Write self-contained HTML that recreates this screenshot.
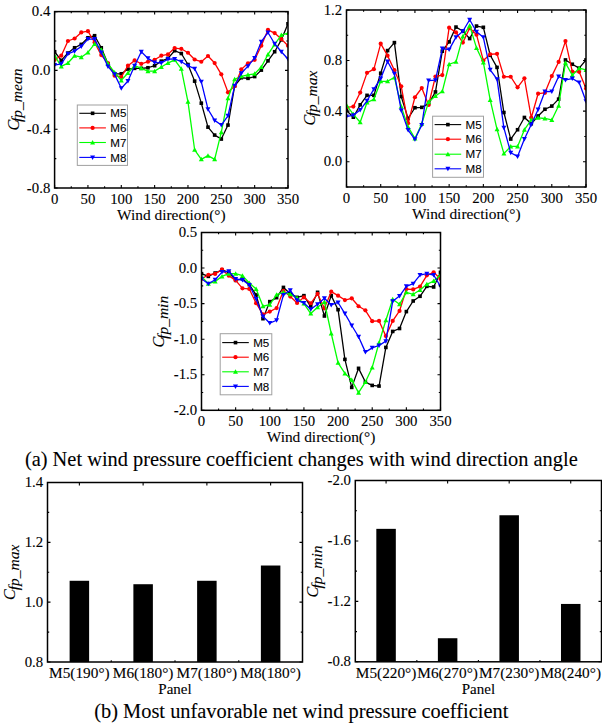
<!DOCTYPE html>
<html><head><meta charset="utf-8"><title>Figure</title>
<style>html,body{margin:0;padding:0;background:#fff;overflow:hidden}svg{display:block}</style></head>
<body><svg width="602" height="723" viewBox="0 0 602 723"><style>text{stroke:#000;stroke-width:0.1px}</style>
<rect width="602" height="723" fill="#fff"/>
<clipPath id="clip1"><rect x="54.6" y="11.6" width="233.4" height="176.4"/></clipPath>
<g clip-path="url(#clip1)">
<polyline points="54.6,51.73 61.27,60.4 67.94,53.05 74.61,47.76 81.27,44.38 87.94,37.77 94.61,35.71 101.28,47.76 107.95,63.79 114.62,73.78 121.29,73.78 127.95,69.08 134.62,68.34 141.29,68.34 147.96,67.75 154.63,65.7 161.3,61.14 167.97,58.35 174.63,50.7 181.3,53.49 187.97,64.52 194.64,81.13 201.31,103.18 207.98,127.14 214.65,135.08 221.31,139.05 227.98,125.08 234.65,85.83 241.32,77.75 247.99,78.34 254.66,76.57 261.33,70.11 267.99,60.84 274.66,51.73 281.33,39.82 288,23.8" fill="none" stroke="#000000" stroke-width="1.3" stroke-linejoin="round"/>
<rect x="52.8" y="49.93" width="3.6" height="3.6" fill="#000000"/>
<rect x="59.47" y="58.6" width="3.6" height="3.6" fill="#000000"/>
<rect x="66.14" y="51.25" width="3.6" height="3.6" fill="#000000"/>
<rect x="72.81" y="45.96" width="3.6" height="3.6" fill="#000000"/>
<rect x="79.47" y="42.58" width="3.6" height="3.6" fill="#000000"/>
<rect x="86.14" y="35.97" width="3.6" height="3.6" fill="#000000"/>
<rect x="92.81" y="33.91" width="3.6" height="3.6" fill="#000000"/>
<rect x="99.48" y="45.96" width="3.6" height="3.6" fill="#000000"/>
<rect x="106.15" y="61.99" width="3.6" height="3.6" fill="#000000"/>
<rect x="112.82" y="71.98" width="3.6" height="3.6" fill="#000000"/>
<rect x="119.49" y="71.98" width="3.6" height="3.6" fill="#000000"/>
<rect x="126.15" y="67.28" width="3.6" height="3.6" fill="#000000"/>
<rect x="132.82" y="66.54" width="3.6" height="3.6" fill="#000000"/>
<rect x="139.49" y="66.54" width="3.6" height="3.6" fill="#000000"/>
<rect x="146.16" y="65.95" width="3.6" height="3.6" fill="#000000"/>
<rect x="152.83" y="63.9" width="3.6" height="3.6" fill="#000000"/>
<rect x="159.5" y="59.34" width="3.6" height="3.6" fill="#000000"/>
<rect x="166.17" y="56.55" width="3.6" height="3.6" fill="#000000"/>
<rect x="172.83" y="48.9" width="3.6" height="3.6" fill="#000000"/>
<rect x="179.5" y="51.7" width="3.6" height="3.6" fill="#000000"/>
<rect x="186.17" y="62.72" width="3.6" height="3.6" fill="#000000"/>
<rect x="192.84" y="79.33" width="3.6" height="3.6" fill="#000000"/>
<rect x="199.51" y="101.38" width="3.6" height="3.6" fill="#000000"/>
<rect x="206.18" y="125.34" width="3.6" height="3.6" fill="#000000"/>
<rect x="212.85" y="133.28" width="3.6" height="3.6" fill="#000000"/>
<rect x="219.51" y="137.25" width="3.6" height="3.6" fill="#000000"/>
<rect x="226.18" y="123.28" width="3.6" height="3.6" fill="#000000"/>
<rect x="232.85" y="84.03" width="3.6" height="3.6" fill="#000000"/>
<rect x="239.52" y="75.95" width="3.6" height="3.6" fill="#000000"/>
<rect x="246.19" y="76.54" width="3.6" height="3.6" fill="#000000"/>
<rect x="252.86" y="74.77" width="3.6" height="3.6" fill="#000000"/>
<rect x="259.53" y="68.31" width="3.6" height="3.6" fill="#000000"/>
<rect x="266.19" y="59.04" width="3.6" height="3.6" fill="#000000"/>
<rect x="272.86" y="49.93" width="3.6" height="3.6" fill="#000000"/>
<rect x="279.53" y="38.02" width="3.6" height="3.6" fill="#000000"/>
<rect x="286.2" y="22" width="3.6" height="3.6" fill="#000000"/>
<polyline points="54.6,59.82 61.27,55.7 67.94,41 74.61,38.5 81.27,32.47 87.94,31.15 94.61,42.47 101.28,55.11 107.95,63.05 114.62,75.69 121.29,77.01 127.95,65.7 134.62,60.4 141.29,63.79 147.96,61.73 154.63,59.82 161.3,55.7 167.97,54.38 174.63,48.06 181.3,48.79 187.97,52.76 194.64,59.52 201.31,61.73 207.98,55.99 214.65,63.05 221.31,74.37 227.98,92.3 234.65,86.13 241.32,69.37 247.99,63.34 254.66,59.82 261.33,45.7 267.99,29.83 274.66,33.06 281.33,39.09 288,45.7" fill="none" stroke="#ff0000" stroke-width="1.3" stroke-linejoin="round"/>
<circle cx="54.6" cy="59.82" r="2.1" fill="#ff0000"/>
<circle cx="61.27" cy="55.7" r="2.1" fill="#ff0000"/>
<circle cx="67.94" cy="41" r="2.1" fill="#ff0000"/>
<circle cx="74.61" cy="38.5" r="2.1" fill="#ff0000"/>
<circle cx="81.27" cy="32.47" r="2.1" fill="#ff0000"/>
<circle cx="87.94" cy="31.15" r="2.1" fill="#ff0000"/>
<circle cx="94.61" cy="42.47" r="2.1" fill="#ff0000"/>
<circle cx="101.28" cy="55.11" r="2.1" fill="#ff0000"/>
<circle cx="107.95" cy="63.05" r="2.1" fill="#ff0000"/>
<circle cx="114.62" cy="75.69" r="2.1" fill="#ff0000"/>
<circle cx="121.29" cy="77.01" r="2.1" fill="#ff0000"/>
<circle cx="127.95" cy="65.7" r="2.1" fill="#ff0000"/>
<circle cx="134.62" cy="60.4" r="2.1" fill="#ff0000"/>
<circle cx="141.29" cy="63.79" r="2.1" fill="#ff0000"/>
<circle cx="147.96" cy="61.73" r="2.1" fill="#ff0000"/>
<circle cx="154.63" cy="59.82" r="2.1" fill="#ff0000"/>
<circle cx="161.3" cy="55.7" r="2.1" fill="#ff0000"/>
<circle cx="167.97" cy="54.38" r="2.1" fill="#ff0000"/>
<circle cx="174.63" cy="48.06" r="2.1" fill="#ff0000"/>
<circle cx="181.3" cy="48.79" r="2.1" fill="#ff0000"/>
<circle cx="187.97" cy="52.76" r="2.1" fill="#ff0000"/>
<circle cx="194.64" cy="59.52" r="2.1" fill="#ff0000"/>
<circle cx="201.31" cy="61.73" r="2.1" fill="#ff0000"/>
<circle cx="207.98" cy="55.99" r="2.1" fill="#ff0000"/>
<circle cx="214.65" cy="63.05" r="2.1" fill="#ff0000"/>
<circle cx="221.31" cy="74.37" r="2.1" fill="#ff0000"/>
<circle cx="227.98" cy="92.3" r="2.1" fill="#ff0000"/>
<circle cx="234.65" cy="86.13" r="2.1" fill="#ff0000"/>
<circle cx="241.32" cy="69.37" r="2.1" fill="#ff0000"/>
<circle cx="247.99" cy="63.34" r="2.1" fill="#ff0000"/>
<circle cx="254.66" cy="59.82" r="2.1" fill="#ff0000"/>
<circle cx="261.33" cy="45.7" r="2.1" fill="#ff0000"/>
<circle cx="267.99" cy="29.83" r="2.1" fill="#ff0000"/>
<circle cx="274.66" cy="33.06" r="2.1" fill="#ff0000"/>
<circle cx="281.33" cy="39.09" r="2.1" fill="#ff0000"/>
<circle cx="288" cy="45.7" r="2.1" fill="#ff0000"/>
<polyline points="54.6,55.7 61.27,66.43 67.94,63.05 74.61,55.7 81.27,57.17 87.94,52.47 94.61,43.94 101.28,49.82 107.95,63.79 114.62,72.46 121.29,80.4 127.95,73.05 134.62,65.7 141.29,68.34 147.96,71.13 154.63,71.13 161.3,67.02 167.97,63.05 174.63,59.82 181.3,68.78 187.97,101.86 194.64,149.78 201.31,159.33 207.98,155.66 214.65,159.33 221.31,132.14 227.98,98.33 234.65,79.22 241.32,76.28 247.99,74.81 254.66,73.78 261.33,67.02 267.99,54.38 274.66,44.38 281.33,35.12 288,33.06" fill="none" stroke="#00ff00" stroke-width="1.3" stroke-linejoin="round"/>
<path d="M54.6 53.2L57.1 57.7L52.1 57.7Z" fill="#00ff00"/>
<path d="M61.27 63.93L63.77 68.43L58.77 68.43Z" fill="#00ff00"/>
<path d="M67.94 60.55L70.44 65.05L65.44 65.05Z" fill="#00ff00"/>
<path d="M74.61 53.2L77.11 57.7L72.11 57.7Z" fill="#00ff00"/>
<path d="M81.27 54.67L83.77 59.17L78.77 59.17Z" fill="#00ff00"/>
<path d="M87.94 49.97L90.44 54.47L85.44 54.47Z" fill="#00ff00"/>
<path d="M94.61 41.44L97.11 45.94L92.11 45.94Z" fill="#00ff00"/>
<path d="M101.28 47.32L103.78 51.82L98.78 51.82Z" fill="#00ff00"/>
<path d="M107.95 61.29L110.45 65.78L105.45 65.78Z" fill="#00ff00"/>
<path d="M114.62 69.96L117.12 74.46L112.12 74.46Z" fill="#00ff00"/>
<path d="M121.29 77.9L123.79 82.4L118.79 82.4Z" fill="#00ff00"/>
<path d="M127.95 70.55L130.45 75.05L125.45 75.05Z" fill="#00ff00"/>
<path d="M134.62 63.2L137.12 67.7L132.12 67.7Z" fill="#00ff00"/>
<path d="M141.29 65.84L143.79 70.34L138.79 70.34Z" fill="#00ff00"/>
<path d="M147.96 68.63L150.46 73.13L145.46 73.13Z" fill="#00ff00"/>
<path d="M154.63 68.63L157.13 73.13L152.13 73.13Z" fill="#00ff00"/>
<path d="M161.3 64.52L163.8 69.02L158.8 69.02Z" fill="#00ff00"/>
<path d="M167.97 60.55L170.47 65.05L165.47 65.05Z" fill="#00ff00"/>
<path d="M174.63 57.32L177.13 61.82L172.13 61.82Z" fill="#00ff00"/>
<path d="M181.3 66.28L183.8 70.78L178.8 70.78Z" fill="#00ff00"/>
<path d="M187.97 99.36L190.47 103.86L185.47 103.86Z" fill="#00ff00"/>
<path d="M194.64 147.28L197.14 151.78L192.14 151.78Z" fill="#00ff00"/>
<path d="M201.31 156.83L203.81 161.33L198.81 161.33Z" fill="#00ff00"/>
<path d="M207.98 153.16L210.48 157.66L205.48 157.66Z" fill="#00ff00"/>
<path d="M214.65 156.83L217.15 161.33L212.15 161.33Z" fill="#00ff00"/>
<path d="M221.31 129.64L223.81 134.14L218.81 134.14Z" fill="#00ff00"/>
<path d="M227.98 95.83L230.48 100.33L225.48 100.33Z" fill="#00ff00"/>
<path d="M234.65 76.72L237.15 81.22L232.15 81.22Z" fill="#00ff00"/>
<path d="M241.32 73.78L243.82 78.28L238.82 78.28Z" fill="#00ff00"/>
<path d="M247.99 72.31L250.49 76.81L245.49 76.81Z" fill="#00ff00"/>
<path d="M254.66 71.28L257.16 75.78L252.16 75.78Z" fill="#00ff00"/>
<path d="M261.33 64.52L263.83 69.02L258.83 69.02Z" fill="#00ff00"/>
<path d="M267.99 51.88L270.49 56.38L265.49 56.38Z" fill="#00ff00"/>
<path d="M274.66 41.88L277.16 46.38L272.16 46.38Z" fill="#00ff00"/>
<path d="M281.33 32.62L283.83 37.12L278.83 37.12Z" fill="#00ff00"/>
<path d="M288 30.56L290.5 35.06L285.5 35.06Z" fill="#00ff00"/>
<polyline points="54.6,65.11 61.27,63.79 67.94,53.79 74.61,51.14 81.27,46.44 87.94,39.09 94.61,39.09 101.28,52.47 107.95,66.43 114.62,74.37 121.29,88.33 127.95,80.98 134.62,65.7 141.29,51.73 147.96,58.35 154.63,62.46 161.3,63.05 167.97,59.08 174.63,58.93 181.3,61.73 187.97,65.7 194.64,68.78 201.31,81.87 207.98,109.21 214.65,120.38 221.31,125.08 227.98,115.82 234.65,85.83 241.32,73.19 247.99,66.14 254.66,57.9 261.33,41.73 267.99,32.47 274.66,43.79 281.33,51.73 288,59.08" fill="none" stroke="#0000ff" stroke-width="1.3" stroke-linejoin="round"/>
<path d="M54.6 67.61L57.1 63.11L52.1 63.11Z" fill="#0000ff"/>
<path d="M61.27 66.28L63.77 61.79L58.77 61.79Z" fill="#0000ff"/>
<path d="M67.94 56.29L70.44 51.79L65.44 51.79Z" fill="#0000ff"/>
<path d="M74.61 53.64L77.11 49.14L72.11 49.14Z" fill="#0000ff"/>
<path d="M81.27 48.94L83.77 44.44L78.77 44.44Z" fill="#0000ff"/>
<path d="M87.94 41.59L90.44 37.09L85.44 37.09Z" fill="#0000ff"/>
<path d="M94.61 41.59L97.11 37.09L92.11 37.09Z" fill="#0000ff"/>
<path d="M101.28 54.97L103.78 50.47L98.78 50.47Z" fill="#0000ff"/>
<path d="M107.95 68.93L110.45 64.43L105.45 64.43Z" fill="#0000ff"/>
<path d="M114.62 76.87L117.12 72.37L112.12 72.37Z" fill="#0000ff"/>
<path d="M121.29 90.83L123.79 86.33L118.79 86.33Z" fill="#0000ff"/>
<path d="M127.95 83.48L130.45 78.98L125.45 78.98Z" fill="#0000ff"/>
<path d="M134.62 68.2L137.12 63.7L132.12 63.7Z" fill="#0000ff"/>
<path d="M141.29 54.23L143.79 49.73L138.79 49.73Z" fill="#0000ff"/>
<path d="M147.96 60.85L150.46 56.35L145.46 56.35Z" fill="#0000ff"/>
<path d="M154.63 64.96L157.13 60.46L152.13 60.46Z" fill="#0000ff"/>
<path d="M161.3 65.55L163.8 61.05L158.8 61.05Z" fill="#0000ff"/>
<path d="M167.97 61.58L170.47 57.08L165.47 57.08Z" fill="#0000ff"/>
<path d="M174.63 61.43L177.13 56.93L172.13 56.93Z" fill="#0000ff"/>
<path d="M181.3 64.23L183.8 59.73L178.8 59.73Z" fill="#0000ff"/>
<path d="M187.97 68.2L190.47 63.7L185.47 63.7Z" fill="#0000ff"/>
<path d="M194.64 71.28L197.14 66.78L192.14 66.78Z" fill="#0000ff"/>
<path d="M201.31 84.37L203.81 79.87L198.81 79.87Z" fill="#0000ff"/>
<path d="M207.98 111.71L210.48 107.21L205.48 107.21Z" fill="#0000ff"/>
<path d="M214.65 122.88L217.15 118.38L212.15 118.38Z" fill="#0000ff"/>
<path d="M221.31 127.58L223.81 123.08L218.81 123.08Z" fill="#0000ff"/>
<path d="M227.98 118.32L230.48 113.82L225.48 113.82Z" fill="#0000ff"/>
<path d="M234.65 88.33L237.15 83.83L232.15 83.83Z" fill="#0000ff"/>
<path d="M241.32 75.69L243.82 71.19L238.82 71.19Z" fill="#0000ff"/>
<path d="M247.99 68.64L250.49 64.14L245.49 64.14Z" fill="#0000ff"/>
<path d="M254.66 60.4L257.16 55.9L252.16 55.9Z" fill="#0000ff"/>
<path d="M261.33 44.23L263.83 39.73L258.83 39.73Z" fill="#0000ff"/>
<path d="M267.99 34.97L270.49 30.47L265.49 30.47Z" fill="#0000ff"/>
<path d="M274.66 46.29L277.16 41.79L272.16 41.79Z" fill="#0000ff"/>
<path d="M281.33 54.23L283.83 49.73L278.83 49.73Z" fill="#0000ff"/>
<path d="M288 61.58L290.5 57.08L285.5 57.08Z" fill="#0000ff"/>
</g>
<rect x="54.6" y="11.6" width="233.4" height="176.4" fill="none" stroke="#000" stroke-width="1.5"/>
<path d="M54.6 188V185M54.6 11.6V14.6" stroke="#000" stroke-width="1.1"/>
<text x="54.6" y="203.7" font-family="Liberation Serif" font-size="14.8" text-anchor="middle">0</text>
<path d="M71.27 188V186.3M71.27 11.6V13.3" stroke="#000" stroke-width="1.1"/>
<path d="M87.94 188V185M87.94 11.6V14.6" stroke="#000" stroke-width="1.1"/>
<text x="87.94" y="203.7" font-family="Liberation Serif" font-size="14.8" text-anchor="middle">50</text>
<path d="M104.61 188V186.3M104.61 11.6V13.3" stroke="#000" stroke-width="1.1"/>
<path d="M121.29 188V185M121.29 11.6V14.6" stroke="#000" stroke-width="1.1"/>
<text x="121.29" y="203.7" font-family="Liberation Serif" font-size="14.8" text-anchor="middle">100</text>
<path d="M137.96 188V186.3M137.96 11.6V13.3" stroke="#000" stroke-width="1.1"/>
<path d="M154.63 188V185M154.63 11.6V14.6" stroke="#000" stroke-width="1.1"/>
<text x="154.63" y="203.7" font-family="Liberation Serif" font-size="14.8" text-anchor="middle">150</text>
<path d="M171.3 188V186.3M171.3 11.6V13.3" stroke="#000" stroke-width="1.1"/>
<path d="M187.97 188V185M187.97 11.6V14.6" stroke="#000" stroke-width="1.1"/>
<text x="187.97" y="203.7" font-family="Liberation Serif" font-size="14.8" text-anchor="middle">200</text>
<path d="M204.64 188V186.3M204.64 11.6V13.3" stroke="#000" stroke-width="1.1"/>
<path d="M221.31 188V185M221.31 11.6V14.6" stroke="#000" stroke-width="1.1"/>
<text x="221.31" y="203.7" font-family="Liberation Serif" font-size="14.8" text-anchor="middle">250</text>
<path d="M237.99 188V186.3M237.99 11.6V13.3" stroke="#000" stroke-width="1.1"/>
<path d="M254.66 188V185M254.66 11.6V14.6" stroke="#000" stroke-width="1.1"/>
<text x="254.66" y="203.7" font-family="Liberation Serif" font-size="14.8" text-anchor="middle">300</text>
<path d="M271.33 188V186.3M271.33 11.6V13.3" stroke="#000" stroke-width="1.1"/>
<path d="M288 188V185M288 11.6V14.6" stroke="#000" stroke-width="1.1"/>
<text x="288" y="203.7" font-family="Liberation Serif" font-size="14.8" text-anchor="middle">350</text>
<path d="M54.6 11.6H57.6M288 11.6H285" stroke="#000" stroke-width="1.1"/>
<path d="M54.6 41H56.3M288 41H286.3" stroke="#000" stroke-width="1.1"/>
<path d="M54.6 70.4H57.6M288 70.4H285" stroke="#000" stroke-width="1.1"/>
<path d="M54.6 99.8H56.3M288 99.8H286.3" stroke="#000" stroke-width="1.1"/>
<path d="M54.6 129.2H57.6M288 129.2H285" stroke="#000" stroke-width="1.1"/>
<path d="M54.6 158.6H56.3M288 158.6H286.3" stroke="#000" stroke-width="1.1"/>
<path d="M54.6 188H57.6M288 188H285" stroke="#000" stroke-width="1.1"/>
<text x="50.3" y="16.1" font-family="Liberation Serif" font-size="14.8" text-anchor="end">0.4</text>
<text x="50.3" y="74.9" font-family="Liberation Serif" font-size="14.8" text-anchor="end">0.0</text>
<text x="50.3" y="133.7" font-family="Liberation Serif" font-size="14.8" text-anchor="end">-0.4</text>
<text x="50.3" y="192.5" font-family="Liberation Serif" font-size="14.8" text-anchor="end">-0.8</text>
<text x="171.3" y="219.6" font-family="Liberation Serif" font-size="15.4" text-anchor="middle">Wind direction(°)</text>
<text transform="translate(18.7,130.4) rotate(-90)" font-family="Liberation Serif" font-size="16" font-style="italic">C</text>
<text transform="translate(22.4,122) rotate(-90)" font-family="Liberation Serif" font-size="15.5" font-style="italic">fp_mean</text>
<rect x="77.3" y="105" width="50.2" height="60.4" fill="#fff" stroke="#a0a0a0" stroke-width="1"/>
<path d="M79.3 113.3H105.9" stroke="#000000" stroke-width="1.1"/>
<rect x="90.8" y="111.5" width="3.6" height="3.6" fill="#000000"/>
<text x="110.3" y="117.4" font-family="Liberation Sans" font-size="11.6" fill="#000">M5</text>
<path d="M79.3 127.9H105.9" stroke="#ff0000" stroke-width="1.1"/>
<circle cx="92.6" cy="127.9" r="2.1" fill="#ff0000"/>
<text x="110.3" y="132" font-family="Liberation Sans" font-size="11.6" fill="#000">M6</text>
<path d="M79.3 142.5H105.9" stroke="#00ff00" stroke-width="1.1"/>
<path d="M92.6 140L95.1 144.5L90.1 144.5Z" fill="#00ff00"/>
<text x="110.3" y="146.6" font-family="Liberation Sans" font-size="11.6" fill="#000">M7</text>
<path d="M79.3 157.4H105.9" stroke="#0000ff" stroke-width="1.1"/>
<path d="M92.6 159.9L95.1 155.4L90.1 155.4Z" fill="#0000ff"/>
<text x="110.3" y="161.5" font-family="Liberation Sans" font-size="11.6" fill="#000">M8</text>
<clipPath id="clip2"><rect x="346.5" y="10" width="239.5" height="177"/></clipPath>
<g clip-path="url(#clip2)">
<polyline points="346.5,110.51 353.34,117.21 360.19,104.82 367.03,95.34 373.87,95.34 380.71,73.21 387.56,50.58 394.4,42.62 401.24,96.6 408.09,118.48 414.93,107.73 421.77,107.35 428.61,103.56 435.46,91.93 442.3,51.22 449.14,41.86 455.99,27.07 462.83,30.99 469.67,38.57 476.51,26.06 483.36,27.32 490.2,55.26 497.04,67.4 503.89,112.53 510.73,139.08 517.57,129.73 524.41,117.46 531.26,123.79 538.1,115.95 544.94,109.25 551.79,106.09 558.63,99.13 565.47,59.94 572.31,64.24 579.16,68.16 586,59.94" fill="none" stroke="#000000" stroke-width="1.3" stroke-linejoin="round"/>
<rect x="344.7" y="108.71" width="3.6" height="3.6" fill="#000000"/>
<rect x="351.54" y="115.41" width="3.6" height="3.6" fill="#000000"/>
<rect x="358.39" y="103.02" width="3.6" height="3.6" fill="#000000"/>
<rect x="365.23" y="93.54" width="3.6" height="3.6" fill="#000000"/>
<rect x="372.07" y="93.54" width="3.6" height="3.6" fill="#000000"/>
<rect x="378.91" y="71.41" width="3.6" height="3.6" fill="#000000"/>
<rect x="385.76" y="48.78" width="3.6" height="3.6" fill="#000000"/>
<rect x="392.6" y="40.82" width="3.6" height="3.6" fill="#000000"/>
<rect x="399.44" y="94.8" width="3.6" height="3.6" fill="#000000"/>
<rect x="406.29" y="116.68" width="3.6" height="3.6" fill="#000000"/>
<rect x="413.13" y="105.93" width="3.6" height="3.6" fill="#000000"/>
<rect x="419.97" y="105.55" width="3.6" height="3.6" fill="#000000"/>
<rect x="426.81" y="101.76" width="3.6" height="3.6" fill="#000000"/>
<rect x="433.66" y="90.13" width="3.6" height="3.6" fill="#000000"/>
<rect x="440.5" y="49.42" width="3.6" height="3.6" fill="#000000"/>
<rect x="447.34" y="40.06" width="3.6" height="3.6" fill="#000000"/>
<rect x="454.19" y="25.27" width="3.6" height="3.6" fill="#000000"/>
<rect x="461.03" y="29.19" width="3.6" height="3.6" fill="#000000"/>
<rect x="467.87" y="36.77" width="3.6" height="3.6" fill="#000000"/>
<rect x="474.71" y="24.26" width="3.6" height="3.6" fill="#000000"/>
<rect x="481.56" y="25.52" width="3.6" height="3.6" fill="#000000"/>
<rect x="488.4" y="53.46" width="3.6" height="3.6" fill="#000000"/>
<rect x="495.24" y="65.6" width="3.6" height="3.6" fill="#000000"/>
<rect x="502.09" y="110.73" width="3.6" height="3.6" fill="#000000"/>
<rect x="508.93" y="137.28" width="3.6" height="3.6" fill="#000000"/>
<rect x="515.77" y="127.93" width="3.6" height="3.6" fill="#000000"/>
<rect x="522.61" y="115.66" width="3.6" height="3.6" fill="#000000"/>
<rect x="529.46" y="121.99" width="3.6" height="3.6" fill="#000000"/>
<rect x="536.3" y="114.15" width="3.6" height="3.6" fill="#000000"/>
<rect x="543.14" y="107.45" width="3.6" height="3.6" fill="#000000"/>
<rect x="549.99" y="104.29" width="3.6" height="3.6" fill="#000000"/>
<rect x="556.83" y="97.33" width="3.6" height="3.6" fill="#000000"/>
<rect x="563.67" y="58.14" width="3.6" height="3.6" fill="#000000"/>
<rect x="570.51" y="62.44" width="3.6" height="3.6" fill="#000000"/>
<rect x="577.36" y="66.36" width="3.6" height="3.6" fill="#000000"/>
<rect x="584.2" y="58.14" width="3.6" height="3.6" fill="#000000"/>
<polyline points="346.5,107.35 353.34,106.59 360.19,92.56 367.03,72.84 373.87,69.17 380.71,43.63 387.56,55.64 394.4,70.18 401.24,86.36 408.09,123.15 414.93,97.24 421.77,88.01 428.61,104.95 435.46,76.5 442.3,75.11 449.14,27.7 455.99,32.38 462.83,42.62 469.67,28.08 476.51,34.65 483.36,60.57 490.2,54.25 497.04,53.87 503.89,76.75 510.73,76.75 517.57,87.37 524.41,78.27 531.26,117.72 538.1,93.7 544.94,92.81 551.79,76.12 558.63,61.96 565.47,41.1 572.31,71.57 579.16,71.82 586,88.39" fill="none" stroke="#ff0000" stroke-width="1.3" stroke-linejoin="round"/>
<circle cx="346.5" cy="107.35" r="2.1" fill="#ff0000"/>
<circle cx="353.34" cy="106.59" r="2.1" fill="#ff0000"/>
<circle cx="360.19" cy="92.56" r="2.1" fill="#ff0000"/>
<circle cx="367.03" cy="72.84" r="2.1" fill="#ff0000"/>
<circle cx="373.87" cy="69.17" r="2.1" fill="#ff0000"/>
<circle cx="380.71" cy="43.63" r="2.1" fill="#ff0000"/>
<circle cx="387.56" cy="55.64" r="2.1" fill="#ff0000"/>
<circle cx="394.4" cy="70.18" r="2.1" fill="#ff0000"/>
<circle cx="401.24" cy="86.36" r="2.1" fill="#ff0000"/>
<circle cx="408.09" cy="123.15" r="2.1" fill="#ff0000"/>
<circle cx="414.93" cy="97.24" r="2.1" fill="#ff0000"/>
<circle cx="421.77" cy="88.01" r="2.1" fill="#ff0000"/>
<circle cx="428.61" cy="104.95" r="2.1" fill="#ff0000"/>
<circle cx="435.46" cy="76.5" r="2.1" fill="#ff0000"/>
<circle cx="442.3" cy="75.11" r="2.1" fill="#ff0000"/>
<circle cx="449.14" cy="27.7" r="2.1" fill="#ff0000"/>
<circle cx="455.99" cy="32.38" r="2.1" fill="#ff0000"/>
<circle cx="462.83" cy="42.62" r="2.1" fill="#ff0000"/>
<circle cx="469.67" cy="28.08" r="2.1" fill="#ff0000"/>
<circle cx="476.51" cy="34.65" r="2.1" fill="#ff0000"/>
<circle cx="483.36" cy="60.57" r="2.1" fill="#ff0000"/>
<circle cx="490.2" cy="54.25" r="2.1" fill="#ff0000"/>
<circle cx="497.04" cy="53.87" r="2.1" fill="#ff0000"/>
<circle cx="503.89" cy="76.75" r="2.1" fill="#ff0000"/>
<circle cx="510.73" cy="76.75" r="2.1" fill="#ff0000"/>
<circle cx="517.57" cy="87.37" r="2.1" fill="#ff0000"/>
<circle cx="524.41" cy="78.27" r="2.1" fill="#ff0000"/>
<circle cx="531.26" cy="117.72" r="2.1" fill="#ff0000"/>
<circle cx="538.1" cy="93.7" r="2.1" fill="#ff0000"/>
<circle cx="544.94" cy="92.81" r="2.1" fill="#ff0000"/>
<circle cx="551.79" cy="76.12" r="2.1" fill="#ff0000"/>
<circle cx="558.63" cy="61.96" r="2.1" fill="#ff0000"/>
<circle cx="565.47" cy="41.1" r="2.1" fill="#ff0000"/>
<circle cx="572.31" cy="71.57" r="2.1" fill="#ff0000"/>
<circle cx="579.16" cy="71.82" r="2.1" fill="#ff0000"/>
<circle cx="586" cy="88.39" r="2.1" fill="#ff0000"/>
<polyline points="346.5,105.2 353.34,114.3 360.19,122.27 367.03,102.55 373.87,99.26 380.71,81.31 387.56,81.31 394.4,77.39 401.24,106.59 408.09,126.95 414.93,138.45 421.77,123.79 428.61,101.91 435.46,95.97 442.3,91.29 449.14,64.24 455.99,61.84 462.83,36.55 469.67,25.68 476.51,47.93 483.36,62.47 490.2,99.89 497.04,129.35 503.89,153.62 510.73,146.42 517.57,146.42 524.41,129.73 531.26,119.87 538.1,117.84 544.94,118.48 551.79,119.99 558.63,105.71 565.47,62.85 572.31,75.24 579.16,68.16 586,69.93" fill="none" stroke="#00ff00" stroke-width="1.3" stroke-linejoin="round"/>
<path d="M346.5 102.7L349 107.2L344 107.2Z" fill="#00ff00"/>
<path d="M353.34 111.8L355.84 116.3L350.84 116.3Z" fill="#00ff00"/>
<path d="M360.19 119.77L362.69 124.27L357.69 124.27Z" fill="#00ff00"/>
<path d="M367.03 100.05L369.53 104.55L364.53 104.55Z" fill="#00ff00"/>
<path d="M373.87 96.76L376.37 101.26L371.37 101.26Z" fill="#00ff00"/>
<path d="M380.71 78.81L383.21 83.31L378.21 83.31Z" fill="#00ff00"/>
<path d="M387.56 78.81L390.06 83.31L385.06 83.31Z" fill="#00ff00"/>
<path d="M394.4 74.89L396.9 79.39L391.9 79.39Z" fill="#00ff00"/>
<path d="M401.24 104.09L403.74 108.59L398.74 108.59Z" fill="#00ff00"/>
<path d="M408.09 124.45L410.59 128.95L405.59 128.95Z" fill="#00ff00"/>
<path d="M414.93 135.95L417.43 140.45L412.43 140.45Z" fill="#00ff00"/>
<path d="M421.77 121.29L424.27 125.79L419.27 125.79Z" fill="#00ff00"/>
<path d="M428.61 99.41L431.11 103.91L426.11 103.91Z" fill="#00ff00"/>
<path d="M435.46 93.47L437.96 97.97L432.96 97.97Z" fill="#00ff00"/>
<path d="M442.3 88.79L444.8 93.29L439.8 93.29Z" fill="#00ff00"/>
<path d="M449.14 61.74L451.64 66.24L446.64 66.24Z" fill="#00ff00"/>
<path d="M455.99 59.34L458.49 63.84L453.49 63.84Z" fill="#00ff00"/>
<path d="M462.83 34.05L465.33 38.55L460.33 38.55Z" fill="#00ff00"/>
<path d="M469.67 23.18L472.17 27.68L467.17 27.68Z" fill="#00ff00"/>
<path d="M476.51 45.43L479.01 49.93L474.01 49.93Z" fill="#00ff00"/>
<path d="M483.36 59.97L485.86 64.47L480.86 64.47Z" fill="#00ff00"/>
<path d="M490.2 97.39L492.7 101.89L487.7 101.89Z" fill="#00ff00"/>
<path d="M497.04 126.85L499.54 131.35L494.54 131.35Z" fill="#00ff00"/>
<path d="M503.89 151.12L506.39 155.62L501.39 155.62Z" fill="#00ff00"/>
<path d="M510.73 143.92L513.23 148.42L508.23 148.42Z" fill="#00ff00"/>
<path d="M517.57 143.92L520.07 148.42L515.07 148.42Z" fill="#00ff00"/>
<path d="M524.41 127.23L526.91 131.73L521.91 131.73Z" fill="#00ff00"/>
<path d="M531.26 117.37L533.76 121.87L528.76 121.87Z" fill="#00ff00"/>
<path d="M538.1 115.34L540.6 119.84L535.6 119.84Z" fill="#00ff00"/>
<path d="M544.94 115.98L547.44 120.48L542.44 120.48Z" fill="#00ff00"/>
<path d="M551.79 117.49L554.29 121.99L549.29 121.99Z" fill="#00ff00"/>
<path d="M558.63 103.21L561.13 107.71L556.13 107.71Z" fill="#00ff00"/>
<path d="M565.47 60.35L567.97 64.85L562.97 64.85Z" fill="#00ff00"/>
<path d="M572.31 72.74L574.81 77.24L569.81 77.24Z" fill="#00ff00"/>
<path d="M579.16 65.66L581.66 70.16L576.66 70.16Z" fill="#00ff00"/>
<path d="M586 67.43L588.5 71.93L583.5 71.93Z" fill="#00ff00"/>
<polyline points="346.5,116.58 353.34,115.19 360.19,109.88 367.03,100.78 373.87,89.14 380.71,78.4 387.56,61.46 394.4,73.85 401.24,110.38 408.09,130.11 414.93,139.34 421.77,125.05 428.61,80.55 435.46,80.17 442.3,48.56 449.14,49.57 455.99,37.18 462.83,31.24 469.67,19.73 476.51,31.75 483.36,37.31 490.2,69.8 497.04,79.16 503.89,127.83 510.73,152.74 517.57,156.4 524.41,139.08 531.26,124.54 538.1,109.5 544.94,91.42 551.79,91.55 558.63,76.5 565.47,79.91 572.31,78.52 579.16,82.57 586,101.16" fill="none" stroke="#0000ff" stroke-width="1.3" stroke-linejoin="round"/>
<path d="M346.5 119.08L349 114.58L344 114.58Z" fill="#0000ff"/>
<path d="M353.34 117.69L355.84 113.19L350.84 113.19Z" fill="#0000ff"/>
<path d="M360.19 112.38L362.69 107.88L357.69 107.88Z" fill="#0000ff"/>
<path d="M367.03 103.28L369.53 98.78L364.53 98.78Z" fill="#0000ff"/>
<path d="M373.87 91.64L376.37 87.14L371.37 87.14Z" fill="#0000ff"/>
<path d="M380.71 80.9L383.21 76.4L378.21 76.4Z" fill="#0000ff"/>
<path d="M387.56 63.96L390.06 59.46L385.06 59.46Z" fill="#0000ff"/>
<path d="M394.4 76.35L396.9 71.85L391.9 71.85Z" fill="#0000ff"/>
<path d="M401.24 112.88L403.74 108.38L398.74 108.38Z" fill="#0000ff"/>
<path d="M408.09 132.61L410.59 128.11L405.59 128.11Z" fill="#0000ff"/>
<path d="M414.93 141.84L417.43 137.34L412.43 137.34Z" fill="#0000ff"/>
<path d="M421.77 127.55L424.27 123.05L419.27 123.05Z" fill="#0000ff"/>
<path d="M428.61 83.05L431.11 78.55L426.11 78.55Z" fill="#0000ff"/>
<path d="M435.46 82.67L437.96 78.17L432.96 78.17Z" fill="#0000ff"/>
<path d="M442.3 51.06L444.8 46.56L439.8 46.56Z" fill="#0000ff"/>
<path d="M449.14 52.07L451.64 47.57L446.64 47.57Z" fill="#0000ff"/>
<path d="M455.99 39.68L458.49 35.18L453.49 35.18Z" fill="#0000ff"/>
<path d="M462.83 33.74L465.33 29.24L460.33 29.24Z" fill="#0000ff"/>
<path d="M469.67 22.23L472.17 17.73L467.17 17.73Z" fill="#0000ff"/>
<path d="M476.51 34.25L479.01 29.75L474.01 29.75Z" fill="#0000ff"/>
<path d="M483.36 39.81L485.86 35.31L480.86 35.31Z" fill="#0000ff"/>
<path d="M490.2 72.3L492.7 67.8L487.7 67.8Z" fill="#0000ff"/>
<path d="M497.04 81.66L499.54 77.16L494.54 77.16Z" fill="#0000ff"/>
<path d="M503.89 130.33L506.39 125.83L501.39 125.83Z" fill="#0000ff"/>
<path d="M510.73 155.24L513.23 150.74L508.23 150.74Z" fill="#0000ff"/>
<path d="M517.57 158.9L520.07 154.4L515.07 154.4Z" fill="#0000ff"/>
<path d="M524.41 141.58L526.91 137.08L521.91 137.08Z" fill="#0000ff"/>
<path d="M531.26 127.04L533.76 122.54L528.76 122.54Z" fill="#0000ff"/>
<path d="M538.1 112L540.6 107.5L535.6 107.5Z" fill="#0000ff"/>
<path d="M544.94 93.92L547.44 89.42L542.44 89.42Z" fill="#0000ff"/>
<path d="M551.79 94.05L554.29 89.55L549.29 89.55Z" fill="#0000ff"/>
<path d="M558.63 79L561.13 74.5L556.13 74.5Z" fill="#0000ff"/>
<path d="M565.47 82.41L567.97 77.91L562.97 77.91Z" fill="#0000ff"/>
<path d="M572.31 81.02L574.81 76.52L569.81 76.52Z" fill="#0000ff"/>
<path d="M579.16 85.07L581.66 80.57L576.66 80.57Z" fill="#0000ff"/>
<path d="M586 103.66L588.5 99.16L583.5 99.16Z" fill="#0000ff"/>
</g>
<rect x="346.5" y="10" width="239.5" height="177" fill="none" stroke="#000" stroke-width="1.5"/>
<path d="M346.5 187V184M346.5 10V13" stroke="#000" stroke-width="1.1"/>
<text x="346.5" y="202.7" font-family="Liberation Serif" font-size="14.8" text-anchor="middle">0</text>
<path d="M363.61 187V185.3M363.61 10V11.7" stroke="#000" stroke-width="1.1"/>
<path d="M380.71 187V184M380.71 10V13" stroke="#000" stroke-width="1.1"/>
<text x="380.71" y="202.7" font-family="Liberation Serif" font-size="14.8" text-anchor="middle">50</text>
<path d="M397.82 187V185.3M397.82 10V11.7" stroke="#000" stroke-width="1.1"/>
<path d="M414.93 187V184M414.93 10V13" stroke="#000" stroke-width="1.1"/>
<text x="414.93" y="202.7" font-family="Liberation Serif" font-size="14.8" text-anchor="middle">100</text>
<path d="M432.04 187V185.3M432.04 10V11.7" stroke="#000" stroke-width="1.1"/>
<path d="M449.14 187V184M449.14 10V13" stroke="#000" stroke-width="1.1"/>
<text x="449.14" y="202.7" font-family="Liberation Serif" font-size="14.8" text-anchor="middle">150</text>
<path d="M466.25 187V185.3M466.25 10V11.7" stroke="#000" stroke-width="1.1"/>
<path d="M483.36 187V184M483.36 10V13" stroke="#000" stroke-width="1.1"/>
<text x="483.36" y="202.7" font-family="Liberation Serif" font-size="14.8" text-anchor="middle">200</text>
<path d="M500.46 187V185.3M500.46 10V11.7" stroke="#000" stroke-width="1.1"/>
<path d="M517.57 187V184M517.57 10V13" stroke="#000" stroke-width="1.1"/>
<text x="517.57" y="202.7" font-family="Liberation Serif" font-size="14.8" text-anchor="middle">250</text>
<path d="M534.68 187V185.3M534.68 10V11.7" stroke="#000" stroke-width="1.1"/>
<path d="M551.79 187V184M551.79 10V13" stroke="#000" stroke-width="1.1"/>
<text x="551.79" y="202.7" font-family="Liberation Serif" font-size="14.8" text-anchor="middle">300</text>
<path d="M568.89 187V185.3M568.89 10V11.7" stroke="#000" stroke-width="1.1"/>
<path d="M586 187V184M586 10V13" stroke="#000" stroke-width="1.1"/>
<text x="586" y="202.7" font-family="Liberation Serif" font-size="14.8" text-anchor="middle">350</text>
<path d="M346.5 10H349.5M586 10H583" stroke="#000" stroke-width="1.1"/>
<path d="M346.5 35.29H348.2M586 35.29H584.3" stroke="#000" stroke-width="1.1"/>
<path d="M346.5 60.57H349.5M586 60.57H583" stroke="#000" stroke-width="1.1"/>
<path d="M346.5 85.86H348.2M586 85.86H584.3" stroke="#000" stroke-width="1.1"/>
<path d="M346.5 111.14H349.5M586 111.14H583" stroke="#000" stroke-width="1.1"/>
<path d="M346.5 136.43H348.2M586 136.43H584.3" stroke="#000" stroke-width="1.1"/>
<path d="M346.5 161.71H349.5M586 161.71H583" stroke="#000" stroke-width="1.1"/>
<path d="M346.5 187H348.2M586 187H584.3" stroke="#000" stroke-width="1.1"/>
<text x="342.2" y="14.5" font-family="Liberation Serif" font-size="14.8" text-anchor="end">1.2</text>
<text x="342.2" y="65.07" font-family="Liberation Serif" font-size="14.8" text-anchor="end">0.8</text>
<text x="342.2" y="115.64" font-family="Liberation Serif" font-size="14.8" text-anchor="end">0.4</text>
<text x="342.2" y="166.21" font-family="Liberation Serif" font-size="14.8" text-anchor="end">0.0</text>
<text x="466.25" y="218.6" font-family="Liberation Serif" font-size="15.4" text-anchor="middle">Wind direction(°)</text>
<text transform="translate(314.6,125.4) rotate(-90)" font-family="Liberation Serif" font-size="16" font-style="italic">C</text>
<text transform="translate(317.1,116.3) rotate(-90)" font-family="Liberation Serif" font-size="15.5" font-style="italic">fp_max</text>
<rect x="432.6" y="116.2" width="50.9" height="61.1" fill="#fff" stroke="#a0a0a0" stroke-width="1"/>
<path d="M434.6 124.6H461.2" stroke="#000000" stroke-width="1.1"/>
<rect x="446.1" y="122.8" width="3.6" height="3.6" fill="#000000"/>
<text x="465.6" y="128.7" font-family="Liberation Sans" font-size="11.6" fill="#000">M5</text>
<path d="M434.6 139.2H461.2" stroke="#ff0000" stroke-width="1.1"/>
<circle cx="447.9" cy="139.2" r="2.1" fill="#ff0000"/>
<text x="465.6" y="143.3" font-family="Liberation Sans" font-size="11.6" fill="#000">M6</text>
<path d="M434.6 154.2H461.2" stroke="#00ff00" stroke-width="1.1"/>
<path d="M447.9 151.7L450.4 156.2L445.4 156.2Z" fill="#00ff00"/>
<text x="465.6" y="158.3" font-family="Liberation Sans" font-size="11.6" fill="#000">M7</text>
<path d="M434.6 168.8H461.2" stroke="#0000ff" stroke-width="1.1"/>
<path d="M447.9 171.3L450.4 166.8L445.4 166.8Z" fill="#0000ff"/>
<text x="465.6" y="172.9" font-family="Liberation Sans" font-size="11.6" fill="#000">M8</text>
<clipPath id="clip3"><rect x="201.5" y="232.5" width="239" height="177.8"/></clipPath>
<g clip-path="url(#clip3)">
<polyline points="201.5,273.68 208.33,276.38 215.16,273.04 221.99,269.98 228.81,272.33 235.64,280.36 242.47,278.73 249.3,284.63 256.13,294.94 262.96,318.7 269.79,301.63 276.61,297.65 283.44,287.4 290.27,293.66 297.1,297.36 303.93,295.65 310.76,306.96 317.59,292.31 324.41,315.99 331.24,295.65 338.07,309.67 344.9,359.38 351.73,387.4 358.56,368.34 365.39,382.07 372.21,385.41 379.04,386.05 385.87,347.43 392.7,331.43 399.53,328.51 406.36,311.59 413.19,300.99 420.01,296.29 426.84,286.34 433.67,286.98 440.5,272.33" fill="none" stroke="#000000" stroke-width="1.3" stroke-linejoin="round"/>
<rect x="199.7" y="271.88" width="3.6" height="3.6" fill="#000000"/>
<rect x="206.53" y="274.58" width="3.6" height="3.6" fill="#000000"/>
<rect x="213.36" y="271.24" width="3.6" height="3.6" fill="#000000"/>
<rect x="220.19" y="268.18" width="3.6" height="3.6" fill="#000000"/>
<rect x="227.01" y="270.53" width="3.6" height="3.6" fill="#000000"/>
<rect x="233.84" y="278.56" width="3.6" height="3.6" fill="#000000"/>
<rect x="240.67" y="276.93" width="3.6" height="3.6" fill="#000000"/>
<rect x="247.5" y="282.83" width="3.6" height="3.6" fill="#000000"/>
<rect x="254.33" y="293.14" width="3.6" height="3.6" fill="#000000"/>
<rect x="261.16" y="316.9" width="3.6" height="3.6" fill="#000000"/>
<rect x="267.99" y="299.83" width="3.6" height="3.6" fill="#000000"/>
<rect x="274.81" y="295.85" width="3.6" height="3.6" fill="#000000"/>
<rect x="281.64" y="285.6" width="3.6" height="3.6" fill="#000000"/>
<rect x="288.47" y="291.86" width="3.6" height="3.6" fill="#000000"/>
<rect x="295.3" y="295.56" width="3.6" height="3.6" fill="#000000"/>
<rect x="302.13" y="293.85" width="3.6" height="3.6" fill="#000000"/>
<rect x="308.96" y="305.16" width="3.6" height="3.6" fill="#000000"/>
<rect x="315.79" y="290.51" width="3.6" height="3.6" fill="#000000"/>
<rect x="322.61" y="314.19" width="3.6" height="3.6" fill="#000000"/>
<rect x="329.44" y="293.85" width="3.6" height="3.6" fill="#000000"/>
<rect x="336.27" y="307.87" width="3.6" height="3.6" fill="#000000"/>
<rect x="343.1" y="357.58" width="3.6" height="3.6" fill="#000000"/>
<rect x="349.93" y="385.6" width="3.6" height="3.6" fill="#000000"/>
<rect x="356.76" y="366.54" width="3.6" height="3.6" fill="#000000"/>
<rect x="363.59" y="380.27" width="3.6" height="3.6" fill="#000000"/>
<rect x="370.41" y="383.61" width="3.6" height="3.6" fill="#000000"/>
<rect x="377.24" y="384.25" width="3.6" height="3.6" fill="#000000"/>
<rect x="384.07" y="345.63" width="3.6" height="3.6" fill="#000000"/>
<rect x="390.9" y="329.63" width="3.6" height="3.6" fill="#000000"/>
<rect x="397.73" y="326.71" width="3.6" height="3.6" fill="#000000"/>
<rect x="404.56" y="309.79" width="3.6" height="3.6" fill="#000000"/>
<rect x="411.39" y="299.19" width="3.6" height="3.6" fill="#000000"/>
<rect x="418.21" y="294.49" width="3.6" height="3.6" fill="#000000"/>
<rect x="425.04" y="284.54" width="3.6" height="3.6" fill="#000000"/>
<rect x="431.87" y="285.18" width="3.6" height="3.6" fill="#000000"/>
<rect x="438.7" y="270.53" width="3.6" height="3.6" fill="#000000"/>
<polyline points="201.5,279.01 208.33,274.75 215.16,273.96 221.99,269.41 228.81,275.67 235.64,280.36 242.47,288.33 249.3,288.97 256.13,303.19 262.96,314.29 269.79,311.59 276.61,308.03 283.44,290.75 290.27,296.58 297.1,302.98 303.93,297.36 310.76,303.26 317.59,293.95 324.41,308.31 331.24,291.67 338.07,295.65 344.9,300.06 351.73,298.29 358.56,306.25 365.39,310.31 372.21,321.19 379.04,320.9 385.87,336.12 392.7,320.9 399.53,310.95 406.36,289.04 413.19,289.4 420.01,286.69 426.84,275.31 433.67,272.33 440.5,279.01" fill="none" stroke="#ff0000" stroke-width="1.3" stroke-linejoin="round"/>
<circle cx="201.5" cy="279.01" r="2.1" fill="#ff0000"/>
<circle cx="208.33" cy="274.75" r="2.1" fill="#ff0000"/>
<circle cx="215.16" cy="273.96" r="2.1" fill="#ff0000"/>
<circle cx="221.99" cy="269.41" r="2.1" fill="#ff0000"/>
<circle cx="228.81" cy="275.67" r="2.1" fill="#ff0000"/>
<circle cx="235.64" cy="280.36" r="2.1" fill="#ff0000"/>
<circle cx="242.47" cy="288.33" r="2.1" fill="#ff0000"/>
<circle cx="249.3" cy="288.97" r="2.1" fill="#ff0000"/>
<circle cx="256.13" cy="303.19" r="2.1" fill="#ff0000"/>
<circle cx="262.96" cy="314.29" r="2.1" fill="#ff0000"/>
<circle cx="269.79" cy="311.59" r="2.1" fill="#ff0000"/>
<circle cx="276.61" cy="308.03" r="2.1" fill="#ff0000"/>
<circle cx="283.44" cy="290.75" r="2.1" fill="#ff0000"/>
<circle cx="290.27" cy="296.58" r="2.1" fill="#ff0000"/>
<circle cx="297.1" cy="302.98" r="2.1" fill="#ff0000"/>
<circle cx="303.93" cy="297.36" r="2.1" fill="#ff0000"/>
<circle cx="310.76" cy="303.26" r="2.1" fill="#ff0000"/>
<circle cx="317.59" cy="293.95" r="2.1" fill="#ff0000"/>
<circle cx="324.41" cy="308.31" r="2.1" fill="#ff0000"/>
<circle cx="331.24" cy="291.67" r="2.1" fill="#ff0000"/>
<circle cx="338.07" cy="295.65" r="2.1" fill="#ff0000"/>
<circle cx="344.9" cy="300.06" r="2.1" fill="#ff0000"/>
<circle cx="351.73" cy="298.29" r="2.1" fill="#ff0000"/>
<circle cx="358.56" cy="306.25" r="2.1" fill="#ff0000"/>
<circle cx="365.39" cy="310.31" r="2.1" fill="#ff0000"/>
<circle cx="372.21" cy="321.19" r="2.1" fill="#ff0000"/>
<circle cx="379.04" cy="320.9" r="2.1" fill="#ff0000"/>
<circle cx="385.87" cy="336.12" r="2.1" fill="#ff0000"/>
<circle cx="392.7" cy="320.9" r="2.1" fill="#ff0000"/>
<circle cx="399.53" cy="310.95" r="2.1" fill="#ff0000"/>
<circle cx="406.36" cy="289.04" r="2.1" fill="#ff0000"/>
<circle cx="413.19" cy="289.4" r="2.1" fill="#ff0000"/>
<circle cx="420.01" cy="286.69" r="2.1" fill="#ff0000"/>
<circle cx="426.84" cy="275.31" r="2.1" fill="#ff0000"/>
<circle cx="433.67" cy="272.33" r="2.1" fill="#ff0000"/>
<circle cx="440.5" cy="279.01" r="2.1" fill="#ff0000"/>
<polyline points="201.5,276.38 208.33,283.71 215.16,281.57 221.99,276.38 228.81,273.68 235.64,273.68 242.47,275.67 249.3,283 256.13,288.97 262.96,306.25 269.79,304.69 276.61,294.73 283.44,292.31 290.27,294.3 297.1,297.93 303.93,303.62 310.76,313.58 317.59,307.18 324.41,301.91 331.24,333.49 338.07,362.79 344.9,373.39 351.73,380.07 358.56,392.66 365.39,382.07 372.21,367.41 379.04,342.74 385.87,320.26 392.7,299.21 399.53,304.33 406.36,292.31 413.19,294.3 420.01,289.96 426.84,284.35 433.67,281 440.5,275.03" fill="none" stroke="#00ff00" stroke-width="1.3" stroke-linejoin="round"/>
<path d="M201.5 273.88L204 278.38L199 278.38Z" fill="#00ff00"/>
<path d="M208.33 281.21L210.83 285.71L205.83 285.71Z" fill="#00ff00"/>
<path d="M215.16 279.07L217.66 283.57L212.66 283.57Z" fill="#00ff00"/>
<path d="M221.99 273.88L224.49 278.38L219.49 278.38Z" fill="#00ff00"/>
<path d="M228.81 271.18L231.31 275.68L226.31 275.68Z" fill="#00ff00"/>
<path d="M235.64 271.18L238.14 275.68L233.14 275.68Z" fill="#00ff00"/>
<path d="M242.47 273.17L244.97 277.67L239.97 277.67Z" fill="#00ff00"/>
<path d="M249.3 280.5L251.8 285L246.8 285Z" fill="#00ff00"/>
<path d="M256.13 286.47L258.63 290.97L253.63 290.97Z" fill="#00ff00"/>
<path d="M262.96 303.75L265.46 308.25L260.46 308.25Z" fill="#00ff00"/>
<path d="M269.79 302.19L272.29 306.69L267.29 306.69Z" fill="#00ff00"/>
<path d="M276.61 292.23L279.11 296.73L274.11 296.73Z" fill="#00ff00"/>
<path d="M283.44 289.81L285.94 294.31L280.94 294.31Z" fill="#00ff00"/>
<path d="M290.27 291.8L292.77 296.3L287.77 296.3Z" fill="#00ff00"/>
<path d="M297.1 295.43L299.6 299.93L294.6 299.93Z" fill="#00ff00"/>
<path d="M303.93 301.12L306.43 305.62L301.43 305.62Z" fill="#00ff00"/>
<path d="M310.76 311.08L313.26 315.58L308.26 315.58Z" fill="#00ff00"/>
<path d="M317.59 304.68L320.09 309.18L315.09 309.18Z" fill="#00ff00"/>
<path d="M324.41 299.41L326.91 303.91L321.91 303.91Z" fill="#00ff00"/>
<path d="M331.24 330.99L333.74 335.49L328.74 335.49Z" fill="#00ff00"/>
<path d="M338.07 360.29L340.57 364.79L335.57 364.79Z" fill="#00ff00"/>
<path d="M344.9 370.89L347.4 375.39L342.4 375.39Z" fill="#00ff00"/>
<path d="M351.73 377.57L354.23 382.07L349.23 382.07Z" fill="#00ff00"/>
<path d="M358.56 390.16L361.06 394.66L356.06 394.66Z" fill="#00ff00"/>
<path d="M365.39 379.57L367.89 384.07L362.89 384.07Z" fill="#00ff00"/>
<path d="M372.21 364.91L374.71 369.41L369.71 369.41Z" fill="#00ff00"/>
<path d="M379.04 340.24L381.54 344.74L376.54 344.74Z" fill="#00ff00"/>
<path d="M385.87 317.76L388.37 322.26L383.37 322.26Z" fill="#00ff00"/>
<path d="M392.7 296.71L395.2 301.21L390.2 301.21Z" fill="#00ff00"/>
<path d="M399.53 301.83L402.03 306.33L397.03 306.33Z" fill="#00ff00"/>
<path d="M406.36 289.81L408.86 294.31L403.86 294.31Z" fill="#00ff00"/>
<path d="M413.19 291.8L415.69 296.3L410.69 296.3Z" fill="#00ff00"/>
<path d="M420.01 287.46L422.51 291.96L417.51 291.96Z" fill="#00ff00"/>
<path d="M426.84 281.85L429.34 286.35L424.34 286.35Z" fill="#00ff00"/>
<path d="M433.67 278.5L436.17 283L431.17 283Z" fill="#00ff00"/>
<path d="M440.5 272.53L443 277.03L438 277.03Z" fill="#00ff00"/>
<polyline points="201.5,278.73 208.33,283.71 215.16,279.72 221.99,272.11 228.81,271.26 235.64,279.01 242.47,280.08 249.3,284.99 256.13,298.93 262.96,316.49 269.79,323.04 276.61,320.26 283.44,294.94 290.27,290.32 297.1,300.28 303.93,302.91 310.76,309.31 317.59,304.33 324.41,298.29 331.24,304.97 338.07,302.48 344.9,313.58 351.73,325.52 358.56,336.76 365.39,352.12 372.21,347.86 379.04,345.44 385.87,341.17 392.7,301.34 399.53,296.01 406.36,286.34 413.19,283.71 420.01,275.03 426.84,273.68 433.67,275.03 440.5,286.34" fill="none" stroke="#0000ff" stroke-width="1.3" stroke-linejoin="round"/>
<path d="M201.5 281.23L204 276.73L199 276.73Z" fill="#0000ff"/>
<path d="M208.33 286.21L210.83 281.71L205.83 281.71Z" fill="#0000ff"/>
<path d="M215.16 282.22L217.66 277.72L212.66 277.72Z" fill="#0000ff"/>
<path d="M221.99 274.61L224.49 270.11L219.49 270.11Z" fill="#0000ff"/>
<path d="M228.81 273.76L231.31 269.26L226.31 269.26Z" fill="#0000ff"/>
<path d="M235.64 281.51L238.14 277.01L233.14 277.01Z" fill="#0000ff"/>
<path d="M242.47 282.58L244.97 278.08L239.97 278.08Z" fill="#0000ff"/>
<path d="M249.3 287.49L251.8 282.99L246.8 282.99Z" fill="#0000ff"/>
<path d="M256.13 301.43L258.63 296.93L253.63 296.93Z" fill="#0000ff"/>
<path d="M262.96 318.99L265.46 314.49L260.46 314.49Z" fill="#0000ff"/>
<path d="M269.79 325.54L272.29 321.04L267.29 321.04Z" fill="#0000ff"/>
<path d="M276.61 322.76L279.11 318.26L274.11 318.26Z" fill="#0000ff"/>
<path d="M283.44 297.44L285.94 292.94L280.94 292.94Z" fill="#0000ff"/>
<path d="M290.27 292.82L292.77 288.32L287.77 288.32Z" fill="#0000ff"/>
<path d="M297.1 302.78L299.6 298.28L294.6 298.28Z" fill="#0000ff"/>
<path d="M303.93 305.41L306.43 300.91L301.43 300.91Z" fill="#0000ff"/>
<path d="M310.76 311.81L313.26 307.31L308.26 307.31Z" fill="#0000ff"/>
<path d="M317.59 306.83L320.09 302.33L315.09 302.33Z" fill="#0000ff"/>
<path d="M324.41 300.79L326.91 296.29L321.91 296.29Z" fill="#0000ff"/>
<path d="M331.24 307.47L333.74 302.97L328.74 302.97Z" fill="#0000ff"/>
<path d="M338.07 304.98L340.57 300.48L335.57 300.48Z" fill="#0000ff"/>
<path d="M344.9 316.08L347.4 311.58L342.4 311.58Z" fill="#0000ff"/>
<path d="M351.73 328.02L354.23 323.52L349.23 323.52Z" fill="#0000ff"/>
<path d="M358.56 339.26L361.06 334.76L356.06 334.76Z" fill="#0000ff"/>
<path d="M365.39 354.62L367.89 350.12L362.89 350.12Z" fill="#0000ff"/>
<path d="M372.21 350.36L374.71 345.86L369.71 345.86Z" fill="#0000ff"/>
<path d="M379.04 347.94L381.54 343.44L376.54 343.44Z" fill="#0000ff"/>
<path d="M385.87 343.67L388.37 339.17L383.37 339.17Z" fill="#0000ff"/>
<path d="M392.7 303.84L395.2 299.34L390.2 299.34Z" fill="#0000ff"/>
<path d="M399.53 298.51L402.03 294.01L397.03 294.01Z" fill="#0000ff"/>
<path d="M406.36 288.84L408.86 284.34L403.86 284.34Z" fill="#0000ff"/>
<path d="M413.19 286.21L415.69 281.71L410.69 281.71Z" fill="#0000ff"/>
<path d="M420.01 277.53L422.51 273.03L417.51 273.03Z" fill="#0000ff"/>
<path d="M426.84 276.18L429.34 271.68L424.34 271.68Z" fill="#0000ff"/>
<path d="M433.67 277.53L436.17 273.03L431.17 273.03Z" fill="#0000ff"/>
<path d="M440.5 288.84L443 284.34L438 284.34Z" fill="#0000ff"/>
</g>
<rect x="201.5" y="232.5" width="239" height="177.8" fill="none" stroke="#000" stroke-width="1.5"/>
<path d="M201.5 410.3V407.3M201.5 232.5V235.5" stroke="#000" stroke-width="1.1"/>
<text x="201.5" y="426" font-family="Liberation Serif" font-size="14.8" text-anchor="middle">0</text>
<path d="M218.57 410.3V408.6M218.57 232.5V234.2" stroke="#000" stroke-width="1.1"/>
<path d="M235.64 410.3V407.3M235.64 232.5V235.5" stroke="#000" stroke-width="1.1"/>
<text x="235.64" y="426" font-family="Liberation Serif" font-size="14.8" text-anchor="middle">50</text>
<path d="M252.71 410.3V408.6M252.71 232.5V234.2" stroke="#000" stroke-width="1.1"/>
<path d="M269.79 410.3V407.3M269.79 232.5V235.5" stroke="#000" stroke-width="1.1"/>
<text x="269.79" y="426" font-family="Liberation Serif" font-size="14.8" text-anchor="middle">100</text>
<path d="M286.86 410.3V408.6M286.86 232.5V234.2" stroke="#000" stroke-width="1.1"/>
<path d="M303.93 410.3V407.3M303.93 232.5V235.5" stroke="#000" stroke-width="1.1"/>
<text x="303.93" y="426" font-family="Liberation Serif" font-size="14.8" text-anchor="middle">150</text>
<path d="M321 410.3V408.6M321 232.5V234.2" stroke="#000" stroke-width="1.1"/>
<path d="M338.07 410.3V407.3M338.07 232.5V235.5" stroke="#000" stroke-width="1.1"/>
<text x="338.07" y="426" font-family="Liberation Serif" font-size="14.8" text-anchor="middle">200</text>
<path d="M355.14 410.3V408.6M355.14 232.5V234.2" stroke="#000" stroke-width="1.1"/>
<path d="M372.21 410.3V407.3M372.21 232.5V235.5" stroke="#000" stroke-width="1.1"/>
<text x="372.21" y="426" font-family="Liberation Serif" font-size="14.8" text-anchor="middle">250</text>
<path d="M389.29 410.3V408.6M389.29 232.5V234.2" stroke="#000" stroke-width="1.1"/>
<path d="M406.36 410.3V407.3M406.36 232.5V235.5" stroke="#000" stroke-width="1.1"/>
<text x="406.36" y="426" font-family="Liberation Serif" font-size="14.8" text-anchor="middle">300</text>
<path d="M423.43 410.3V408.6M423.43 232.5V234.2" stroke="#000" stroke-width="1.1"/>
<path d="M440.5 410.3V407.3M440.5 232.5V235.5" stroke="#000" stroke-width="1.1"/>
<text x="440.5" y="426" font-family="Liberation Serif" font-size="14.8" text-anchor="middle">350</text>
<path d="M201.5 232.5H204.5M440.5 232.5H437.5" stroke="#000" stroke-width="1.1"/>
<path d="M201.5 250.28H203.2M440.5 250.28H438.8" stroke="#000" stroke-width="1.1"/>
<path d="M201.5 268.06H204.5M440.5 268.06H437.5" stroke="#000" stroke-width="1.1"/>
<path d="M201.5 285.84H203.2M440.5 285.84H438.8" stroke="#000" stroke-width="1.1"/>
<path d="M201.5 303.62H204.5M440.5 303.62H437.5" stroke="#000" stroke-width="1.1"/>
<path d="M201.5 321.4H203.2M440.5 321.4H438.8" stroke="#000" stroke-width="1.1"/>
<path d="M201.5 339.18H204.5M440.5 339.18H437.5" stroke="#000" stroke-width="1.1"/>
<path d="M201.5 356.96H203.2M440.5 356.96H438.8" stroke="#000" stroke-width="1.1"/>
<path d="M201.5 374.74H204.5M440.5 374.74H437.5" stroke="#000" stroke-width="1.1"/>
<path d="M201.5 392.52H203.2M440.5 392.52H438.8" stroke="#000" stroke-width="1.1"/>
<path d="M201.5 410.3H204.5M440.5 410.3H437.5" stroke="#000" stroke-width="1.1"/>
<text x="197.2" y="237" font-family="Liberation Serif" font-size="14.8" text-anchor="end">0.5</text>
<text x="197.2" y="272.56" font-family="Liberation Serif" font-size="14.8" text-anchor="end">0.0</text>
<text x="197.2" y="308.12" font-family="Liberation Serif" font-size="14.8" text-anchor="end">-0.5</text>
<text x="197.2" y="343.68" font-family="Liberation Serif" font-size="14.8" text-anchor="end">-1.0</text>
<text x="197.2" y="379.24" font-family="Liberation Serif" font-size="14.8" text-anchor="end">-1.5</text>
<text x="197.2" y="414.8" font-family="Liberation Serif" font-size="14.8" text-anchor="end">-2.0</text>
<text x="321" y="441.9" font-family="Liberation Serif" font-size="15.4" text-anchor="middle">Wind direction(°)</text>
<text transform="translate(164,347.6) rotate(-90)" font-family="Liberation Serif" font-size="16" font-style="italic">C</text>
<text transform="translate(167.5,338.9) rotate(-90)" font-family="Liberation Serif" font-size="15.5" font-style="italic">fp_min</text>
<rect x="220.2" y="333.7" width="51.6" height="61.1" fill="#fff" stroke="#a0a0a0" stroke-width="1"/>
<path d="M222.2 342.6H248.8" stroke="#000000" stroke-width="1.1"/>
<rect x="233.7" y="340.8" width="3.6" height="3.6" fill="#000000"/>
<text x="253.2" y="346.7" font-family="Liberation Sans" font-size="11.6" fill="#000">M5</text>
<path d="M222.2 357.2H248.8" stroke="#ff0000" stroke-width="1.1"/>
<circle cx="235.5" cy="357.2" r="2.1" fill="#ff0000"/>
<text x="253.2" y="361.3" font-family="Liberation Sans" font-size="11.6" fill="#000">M6</text>
<path d="M222.2 371.8H248.8" stroke="#00ff00" stroke-width="1.1"/>
<path d="M235.5 369.3L238 373.8L233 373.8Z" fill="#00ff00"/>
<text x="253.2" y="375.9" font-family="Liberation Sans" font-size="11.6" fill="#000">M7</text>
<path d="M222.2 386.4H248.8" stroke="#0000ff" stroke-width="1.1"/>
<path d="M235.5 388.9L238 384.4L233 384.4Z" fill="#0000ff"/>
<text x="253.2" y="390.5" font-family="Liberation Sans" font-size="11.6" fill="#000">M8</text>
<rect x="69.62" y="580.78" width="19.5" height="81.22" fill="#000"/>
<rect x="133.38" y="584.22" width="19.5" height="77.78" fill="#000"/>
<rect x="197.12" y="580.78" width="19.5" height="81.22" fill="#000"/>
<rect x="260.88" y="565.52" width="19.5" height="96.48" fill="#000"/>
<rect x="47.5" y="482.5" width="255" height="179.5" fill="none" stroke="#000" stroke-width="1.5"/>
<path d="M79.38 482.5V485.5" stroke="#000" stroke-width="1.1"/>
<text x="79.38" y="678" font-family="Liberation Serif" font-size="15.3" text-anchor="middle">M5(190°)</text>
<path d="M143.12 482.5V485.5" stroke="#000" stroke-width="1.1"/>
<path d="M111.25 662V660.3" stroke="#000" stroke-width="1.1"/>
<text x="143.12" y="678" font-family="Liberation Serif" font-size="15.3" text-anchor="middle">M6(180°)</text>
<path d="M206.88 482.5V485.5" stroke="#000" stroke-width="1.1"/>
<path d="M175 662V660.3" stroke="#000" stroke-width="1.1"/>
<text x="206.88" y="678" font-family="Liberation Serif" font-size="15.3" text-anchor="middle">M7(180°)</text>
<path d="M270.62 482.5V485.5" stroke="#000" stroke-width="1.1"/>
<path d="M238.75 662V660.3" stroke="#000" stroke-width="1.1"/>
<text x="270.62" y="678" font-family="Liberation Serif" font-size="15.3" text-anchor="middle">M8(180°)</text>
<path d="M47.5 482.5H50.5M302.5 482.5H299.5" stroke="#000" stroke-width="1.1"/>
<path d="M47.5 512.42H49.2M302.5 512.42H300.8" stroke="#000" stroke-width="1.1"/>
<path d="M47.5 542.33H50.5M302.5 542.33H299.5" stroke="#000" stroke-width="1.1"/>
<path d="M47.5 572.25H49.2M302.5 572.25H300.8" stroke="#000" stroke-width="1.1"/>
<path d="M47.5 602.17H50.5M302.5 602.17H299.5" stroke="#000" stroke-width="1.1"/>
<path d="M47.5 632.08H49.2M302.5 632.08H300.8" stroke="#000" stroke-width="1.1"/>
<path d="M47.5 662H50.5M302.5 662H299.5" stroke="#000" stroke-width="1.1"/>
<text x="43.2" y="487" font-family="Liberation Serif" font-size="14.8" text-anchor="end">1.4</text>
<text x="43.2" y="546.83" font-family="Liberation Serif" font-size="14.8" text-anchor="end">1.2</text>
<text x="43.2" y="606.67" font-family="Liberation Serif" font-size="14.8" text-anchor="end">1.0</text>
<text x="43.2" y="666.5" font-family="Liberation Serif" font-size="14.8" text-anchor="end">0.8</text>
<text x="175" y="694" font-family="Liberation Serif" font-size="15" text-anchor="middle">Panel</text>
<text transform="translate(14.9,600) rotate(-90)" font-family="Liberation Serif" font-size="16" font-style="italic">C</text>
<text transform="translate(19,590.2) rotate(-90)" font-family="Liberation Serif" font-size="15.5" font-style="italic">fp_max</text>
<rect x="376.32" y="528.85" width="19.5" height="132.95" fill="#000"/>
<rect x="437.88" y="638.23" width="19.5" height="23.57" fill="#000"/>
<rect x="499.43" y="515.25" width="19.5" height="146.55" fill="#000"/>
<rect x="560.98" y="603.94" width="19.5" height="57.86" fill="#000"/>
<rect x="355.3" y="480.5" width="246.2" height="181.3" fill="none" stroke="#000" stroke-width="1.5"/>
<path d="M386.07 480.5V483.5" stroke="#000" stroke-width="1.1"/>
<text x="386.07" y="677.8" font-family="Liberation Serif" font-size="15.3" text-anchor="middle">M5(220°)</text>
<path d="M447.62 480.5V483.5" stroke="#000" stroke-width="1.1"/>
<path d="M416.85 661.8V660.1" stroke="#000" stroke-width="1.1"/>
<text x="447.62" y="677.8" font-family="Liberation Serif" font-size="15.3" text-anchor="middle">M6(270°)</text>
<path d="M509.18 480.5V483.5" stroke="#000" stroke-width="1.1"/>
<path d="M478.4 661.8V660.1" stroke="#000" stroke-width="1.1"/>
<text x="509.18" y="677.8" font-family="Liberation Serif" font-size="15.3" text-anchor="middle">M7(230°)</text>
<path d="M570.73 480.5V483.5" stroke="#000" stroke-width="1.1"/>
<path d="M539.95 661.8V660.1" stroke="#000" stroke-width="1.1"/>
<text x="570.73" y="677.8" font-family="Liberation Serif" font-size="15.3" text-anchor="middle">M8(240°)</text>
<path d="M355.3 480.5H358.3M601.5 480.5H598.5" stroke="#000" stroke-width="1.1"/>
<path d="M355.3 510.72H357M601.5 510.72H599.8" stroke="#000" stroke-width="1.1"/>
<path d="M355.3 540.93H358.3M601.5 540.93H598.5" stroke="#000" stroke-width="1.1"/>
<path d="M355.3 571.15H357M601.5 571.15H599.8" stroke="#000" stroke-width="1.1"/>
<path d="M355.3 601.37H358.3M601.5 601.37H598.5" stroke="#000" stroke-width="1.1"/>
<path d="M355.3 631.58H357M601.5 631.58H599.8" stroke="#000" stroke-width="1.1"/>
<path d="M355.3 661.8H358.3M601.5 661.8H598.5" stroke="#000" stroke-width="1.1"/>
<text x="351" y="485" font-family="Liberation Serif" font-size="14.8" text-anchor="end">-2.0</text>
<text x="351" y="545.43" font-family="Liberation Serif" font-size="14.8" text-anchor="end">-1.6</text>
<text x="351" y="605.87" font-family="Liberation Serif" font-size="14.8" text-anchor="end">-1.2</text>
<text x="351" y="666.3" font-family="Liberation Serif" font-size="14.8" text-anchor="end">-0.8</text>
<text x="478.4" y="693.8" font-family="Liberation Serif" font-size="15" text-anchor="middle">Panel</text>
<text transform="translate(317.8,597.6) rotate(-90)" font-family="Liberation Serif" font-size="16" font-style="italic">C</text>
<text transform="translate(322.4,588.6) rotate(-90)" font-family="Liberation Serif" font-size="15.5" font-style="italic">fp_min</text>
<text x="301.3" y="465.7" font-family="Liberation Serif" font-size="20.4" text-anchor="middle">(a) Net wind pressure coefficient changes with wind direction angle</text>
<text x="301.3" y="717.9" font-family="Liberation Serif" font-size="20.4" text-anchor="middle">(b) Most unfavorable net wind pressure coefficient</text>
</svg></body></html>
